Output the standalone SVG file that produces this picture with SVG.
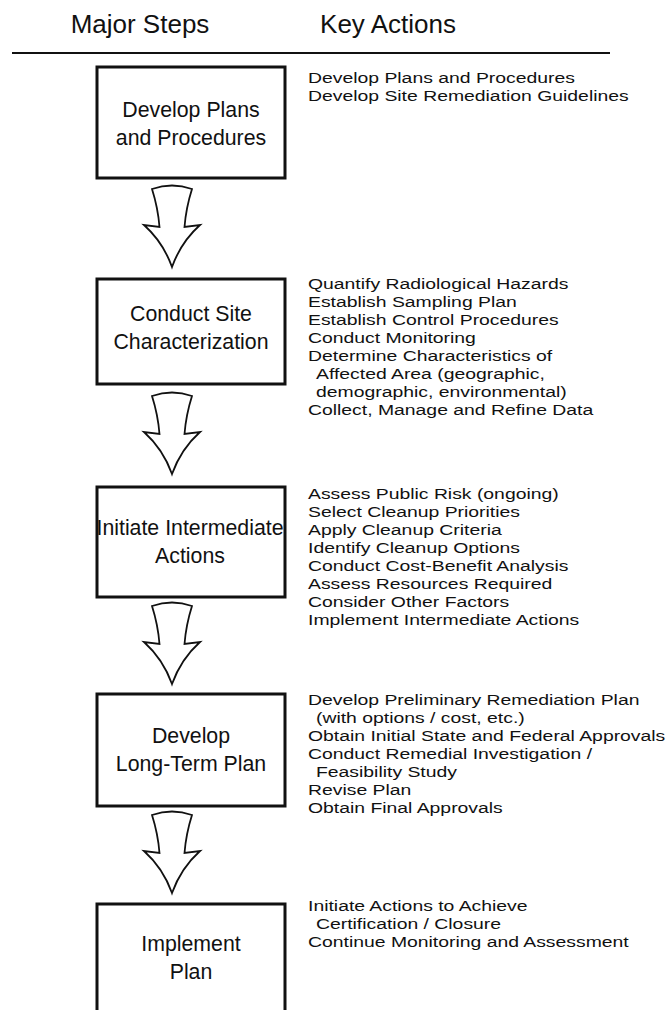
<svg xmlns="http://www.w3.org/2000/svg" width="670" height="1010" viewBox="0 0 670 1010">
  <style>
    .bg { fill: #ffffff; }
    .head { font-family: "Liberation Sans", Arial, sans-serif; font-size: 26px; fill: #111; text-anchor: middle; }
    .step { fill: #ffffff; stroke: #111; stroke-width: 3; }
    .stepText { font-family: "Liberation Sans", Arial, sans-serif; font-size: 21.3px; fill: #111; text-anchor: middle; }
    .act { font-family: "Liberation Sans", Arial, sans-serif; font-size: 15.5px; fill: #111; }
    .arrow { fill: #ffffff; stroke: #111; stroke-width: 1.8; stroke-linejoin: miter; }
  </style>
  <defs>
    <!-- hollow block arrow, origin at the middle of its top edge -->
    <path id="downArrow" class="arrow" d="M -20,3 Q 0,-4 20,3 Q 14,22 12.5,41 L 28,39 Q 9,56 0,81 Q -9,56 -28,39 L -12.5,41 Q -14,22 -20,3 Z"/>
  </defs>
  <rect class="bg" x="0" y="0" width="670" height="1010"/>

  <!-- column headings -->
  <g id="headings">
    <text class="head" x="140" y="33">Major Steps</text>
    <text class="head" x="388" y="33">Key Actions</text>
    <line x1="12" y1="53" x2="610" y2="53" stroke="#111" stroke-width="1.8"/>
  </g>

  <!-- connectors between the steps -->
  <g id="connectors">
    <use href="#downArrow" x="172" y="186"/>
    <use href="#downArrow" x="172" y="393"/>
    <use href="#downArrow" x="172" y="603"/>
    <use href="#downArrow" x="172" y="812"/>
  </g>

  <g id="step1">
    <rect class="step" x="97" y="67" width="188" height="111"/>
    <text class="stepText" x="191" y="117">Develop Plans</text>
    <text class="stepText" x="191" y="145">and Procedures</text>
  </g>
  <g id="step2">
    <rect class="step" x="97" y="279" width="188" height="105"/>
    <text class="stepText" x="191" y="321">Conduct Site</text>
    <text class="stepText" x="191" y="349">Characterization</text>
  </g>
  <g id="step3">
    <rect class="step" x="97" y="487" width="188" height="110"/>
    <text class="stepText" x="190" y="535">Initiate Intermediate</text>
    <text class="stepText" x="190" y="563">Actions</text>
  </g>
  <g id="step4">
    <rect class="step" x="97" y="694" width="188" height="112"/>
    <text class="stepText" x="191" y="743">Develop</text>
    <text class="stepText" x="191" y="771">Long-Term Plan</text>
  </g>
  <g id="step5">
    <path class="step" d="M 97,1012 V 904 H 285 V 1012"/>
    <text class="stepText" x="191" y="951">Implement</text>
    <text class="stepText" x="191" y="979">Plan</text>
  </g>

  <!-- key actions for each step (wide-set type) -->
  <g id="actions1" class="act" transform="translate(308,0) scale(1.25,1)">
    <text x="0" y="83">Develop Plans and Procedures</text>
    <text x="0" y="101">Develop Site Remediation Guidelines</text>
  </g>
  <g id="actions2" class="act" transform="translate(308,0) scale(1.25,1)">
    <text x="0" y="289">Quantify Radiological Hazards</text>
    <text x="0" y="307">Establish Sampling Plan</text>
    <text x="0" y="325">Establish Control Procedures</text>
    <text x="0" y="343">Conduct Monitoring</text>
    <text x="0" y="361">Determine Characteristics of</text>
    <text x="6.4" y="379">Affected Area (geographic,</text>
    <text x="6.4" y="397">demographic, environmental)</text>
    <text x="0" y="415">Collect, Manage and Refine Data</text>
  </g>
  <g id="actions3" class="act" transform="translate(308,0) scale(1.25,1)">
    <text x="0" y="499">Assess Public Risk (ongoing)</text>
    <text x="0" y="517">Select Cleanup Priorities</text>
    <text x="0" y="535">Apply Cleanup Criteria</text>
    <text x="0" y="553">Identify Cleanup Options</text>
    <text x="0" y="571">Conduct Cost-Benefit Analysis</text>
    <text x="0" y="589">Assess Resources Required</text>
    <text x="0" y="607">Consider Other Factors</text>
    <text x="0" y="625">Implement Intermediate Actions</text>
  </g>
  <g id="actions4" class="act" transform="translate(308,0) scale(1.25,1)">
    <text x="0" y="705">Develop Preliminary Remediation Plan</text>
    <text x="6.4" y="723">(with options / cost, etc.)</text>
    <text x="0" y="741">Obtain Initial State and Federal Approvals</text>
    <text x="0" y="759">Conduct Remedial Investigation /</text>
    <text x="6.4" y="777">Feasibility Study</text>
    <text x="0" y="795">Revise Plan</text>
    <text x="0" y="813">Obtain Final Approvals</text>
  </g>
  <g id="actions5" class="act" transform="translate(308,0) scale(1.25,1)">
    <text x="0" y="911">Initiate Actions to Achieve</text>
    <text x="6.4" y="929">Certification / Closure</text>
    <text x="0" y="947">Continue Monitoring and Assessment</text>
  </g>
</svg>
